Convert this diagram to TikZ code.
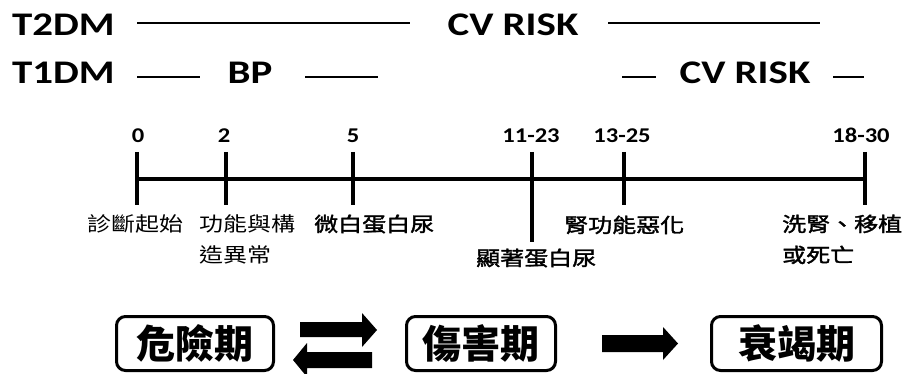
\documentclass[tikz,border=0pt]{standalone}
\usepackage{fontspec}
\setmainfont{Carlito}
\newfontfamily\cjk{Noto Sans CJK TC}
\newfontfamily\cjkm[FakeBold=1.6]{Noto Sans CJK TC}
\newcommand\hsx[2]{\scalebox{#1}[1]{#2}}
\begin{document}
\begin{tikzpicture}[x=1pt,y=-1pt,
  lat/.style={font=\fontsize{33}{33}\selectfont\bfseries, inner sep=0},
  num/.style={font=\fontsize{21}{21}\selectfont\bfseries, inner sep=0, anchor=base},
  lab/.style={font=\cjk\fontsize{20}{24}\selectfont, inner sep=0, anchor=base west},
  labb/.style={font=\cjkm\fontsize{20}{24}\selectfont, inner sep=0, anchor=base west},
  stage/.style={draw, line width=3pt, rounded corners=9pt, minimum height=54pt, inner sep=0,
                font=\cjk\bfseries\fontsize{39}{39}\selectfont},
  rule/.style={line width=2.5pt},
  axis/.style={line width=4pt},
  blk/.style={fill=black, draw=none}
]
\useasboundingbox (0,0) rectangle (909,374);

% top rows
\node[lat, anchor=west] (t2) at (12,25) {\hsx{1.24}{T2DM}};
\node[lat] (cv1) at (513,25) {\hsx{1.24}{CV RISK}};
\node[lat, anchor=west] (t1) at (12,73) {\hsx{1.24}{T1DM}};
\node[lat] (bp) at (250,73) {\hsx{1.24}{BP}};
\node[lat] (cv2) at (745,73) {\hsx{1.24}{CV RISK}};
\draw[rule] (137,23) -- (410,23);
\draw[rule] (608,23) -- (820,23);
\draw[rule] (137,77) -- (200,77);
\draw[rule] (305,77) -- (378,77);
\draw[rule] (622,77) -- (656,77);
\draw[rule] (833,77) -- (864,77);

% timeline
\coordinate (a0) at (137,179);
\coordinate (a1) at (226,179);
\coordinate (a2) at (353,179);
\coordinate (a3) at (532,179);
\coordinate (a4) at (624,179);
\coordinate (a5) at (865,179);
\draw[axis] (a0) -- (a5);
\foreach \c in {a0,a1,a2,a4,a5} \draw[axis] (\c) ++(0,-27) -- ++(0,53);
\draw[axis] (a3) ++(0,-27) -- ++(0,90);

\node[num] (n0) at (138,142.5) {\hsx{1.17}{0}};
\node[num] (n1) at (224,142.5) {\hsx{1.17}{2}};
\node[num] (n2) at (353,142.5) {\hsx{1.17}{5}};
\node[num] (n3) at (531,142.5) {\hsx{1.17}{11-23}};
\node[num] (n4) at (622,142.5) {\hsx{1.17}{13-25}};
\node[num] (n5) at (861,142.5) {\hsx{1.17}{18-30}};

\node[lab] (l0) at (87,231.5) {\hsx{1.2}{診斷起始}};
\node[lab] (l1a) at (199,231.5) {\hsx{1.2}{功能與構}};
\node[lab] (l1b) at (199,262.5) {\hsx{1.2}{造異常}};
\node[labb] (l2) at (314,231.5) {\hsx{1.2}{微白蛋白尿}};
\node[labb] (l3) at (476,265.5) {\hsx{1.2}{顯著蛋白尿}};
\node[labb] (l4) at (564,232.5) {\hsx{1.2}{腎功能惡化}};
\node[labb] (l5a) at (782,231.5) {\hsx{1.2}{洗腎、移植}};
\node[labb] (l5b) at (782,262.5) {\hsx{1.2}{或死亡}};

% stages
\node[stage, minimum width=157pt] (s1) at (195,343.5) {危險期};
\node[stage, minimum width=149pt] (s2) at (481,343.5) {傷害期};
\node[stage, minimum width=170pt] (s3) at (796.5,343.5) {衰竭期};

% block arrows
\fill[blk] (300,322) -- (362,322) -- (362,313) -- (377,330) -- (362,347) -- (362,337) -- (300,337) -- cycle;
\fill[blk] (372,352) -- (307,352) -- (307,343) -- (293,360) -- (307,377) -- (307,368) -- (372,368) -- cycle;
\fill[blk] (602,335) -- (663,335) -- (663,327) -- (678,343.5) -- (663,360) -- (663,352) -- (602,352) -- cycle;
\end{tikzpicture}
\end{document}
